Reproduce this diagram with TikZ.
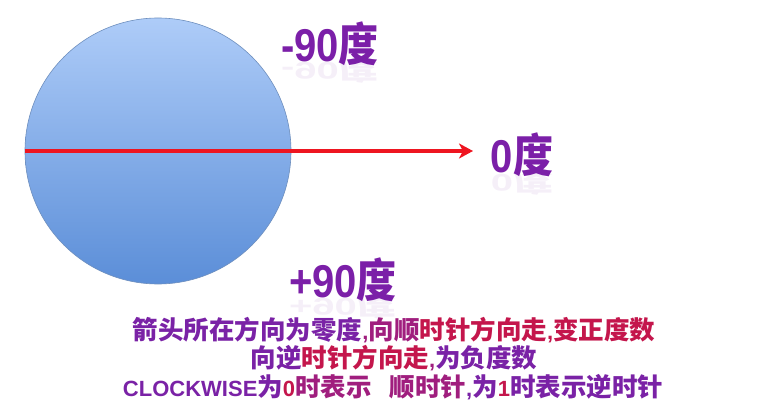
\documentclass[tikz,border=0pt]{standalone}
\usepackage{fontspec}
\setmainfont{Liberation Sans}
\newfontfamily\cjk{Noto Sans CJK SC}
\usetikzlibrary{arrows.meta}
\definecolor{lblpurple}{HTML}{7B1FA8}
\definecolor{tp}{HTML}{7A22A6}
\definecolor{tm}{HTML}{A01E7E}
\definecolor{tr}{HTML}{C4164C}
\definecolor{circtop}{HTML}{AECCF8}
\definecolor{circbot}{HTML}{5B8ED8}
\definecolor{circline}{HTML}{6E8FBE}
\definecolor{arrred}{HTML}{EE1520}
\newcommand{\zhc}[1]{{\cjk\bfseries\fontsize{25.5}{28}\selectfont #1}}
\newcommand{\lat}[1]{{\bfseries\fontsize{22}{28}\selectfont #1}}
\newcommand{\bzh}[1]{{\cjk\bfseries #1}}
\newcommand{\blat}[1]{{\bfseries #1}}
\tikzset{
  anglelbl/.style={text=lblpurple, font=\fontsize{40}{44}\selectfont, inner sep=0pt, yscale=1.15},
  reflect/.style={text=lblpurple, font=\fontsize{40}{44}\selectfont, inner sep=0pt, yscale=-0.6, opacity=0.07},
  noteline/.style={inner sep=0pt}
}
\begin{document}
\begin{tikzpicture}[x=1pt,y=-1pt]
\useasboundingbox (0,0) rectangle (784,406);
\fill[white] (0,0) rectangle (784,406);
\node[circle, minimum size=266pt, inner sep=0pt, draw=circline, line width=0.6pt,
  top color=circtop, bottom color=circbot] (disc) at (158,151) {};
\coordinate (tip) at (473,151);
\draw[arrred, line width=3.2pt, -{Stealth[length=14pt,width=15pt,inset=4pt]}] (disc.west) -- (tip);
\node[anglelbl] (neg) at (330,44) {\blat{-90}\bzh{度}};
\node[reflect] (negr) at (330,72) {\blat{-90}\bzh{度}};
\node[anglelbl] (zero) at (522,155) {\blat{0}\bzh{度}};
\node[reflect] (zeror) at (522,184) {\blat{0}\bzh{度}};
\node[anglelbl] (pos) at (343,280) {\blat{+90}\bzh{度}};
\node[reflect] (posr) at (343,308) {\blat{+90}\bzh{度}};
\node[noteline] (l1) at (394,330) {\textcolor{tp}{\zhc{箭头所在方向为零度}}\textcolor{tm}{\lat{,}\zhc{向顺}}\textcolor{tr}{\zhc{时针方向走}\lat{,}\zhc{变正度数}}};
\node[noteline] (l2) at (394,358) {\textcolor{tp}{\zhc{向逆}}\textcolor{tr}{\zhc{时针方向走}}\textcolor{tm}{\lat{,}}\textcolor{tp}{\zhc{为负度数}}};
\node[noteline] (l3) at (393,387) {\textcolor{tp}{\lat{CLOCKWISE}\zhc{为}}\textcolor{tr}{\lat{0}}\textcolor{tm}{\zhc{时表示}\hspace{18pt}\zhc{顺时针}}\textcolor{tp}{\lat{,}\zhc{为}}\textcolor{tr}{\lat{1}}\textcolor{tp}{\zhc{时表示逆时针}}};
\end{tikzpicture}
\end{document}
